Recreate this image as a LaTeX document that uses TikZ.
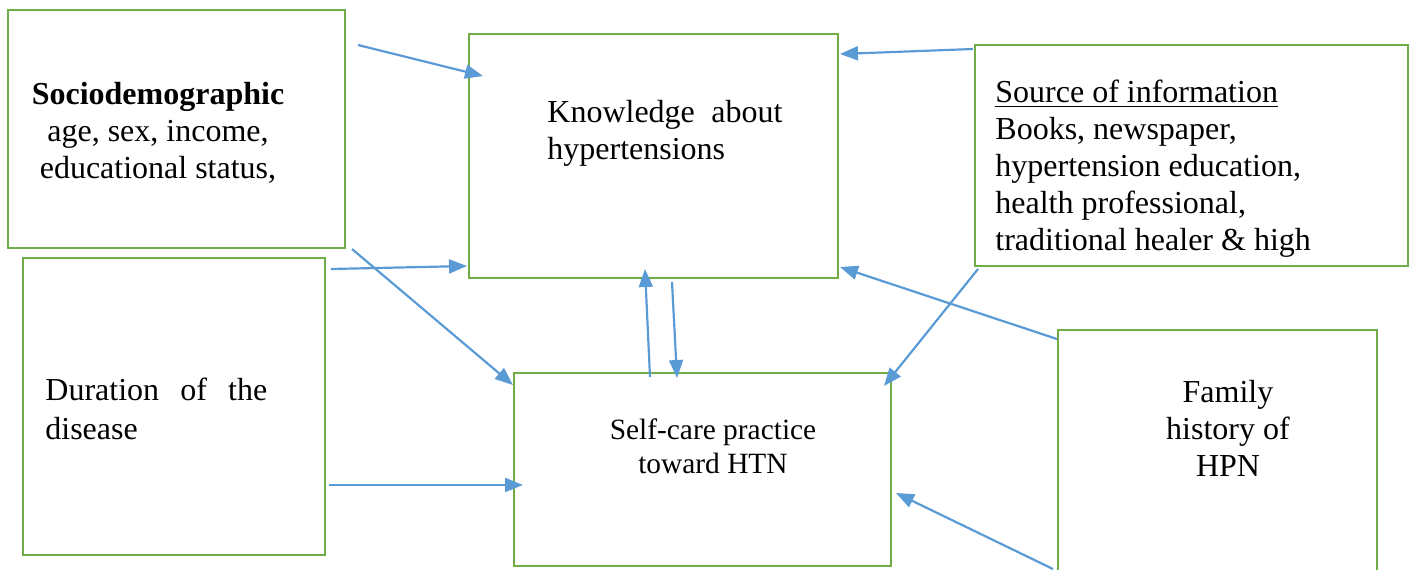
\documentclass[tikz,border=0pt]{standalone}
\usepackage{fontspec}
\setmainfont{Liberation Serif}
\usetikzlibrary{arrows.meta,fit}
\definecolor{boxgreen}{HTML}{70AD47}
\definecolor{arrblue}{HTML}{5B9BD5}
\tikzset{
  box/.style={draw=boxgreen, line width=1.4pt, inner sep=0pt},
  txt/.style={inner sep=0pt, font=\fontsize{16}{18.5}\selectfont},
  arr/.style={draw=arrblue, line width=1.1pt, -{Triangle[length=9pt,width=7pt]}},
}
\begin{document}
\begin{tikzpicture}[x=0.5pt,y=-0.5pt]
\useasboundingbox (0,0) rectangle (1413,569);
% boxes
\node[box, fit={(8,10) (345,248)}] (soc) {};
\node[box, fit={(469,34) (838,278)}] (know) {};
\node[box, fit={(975,45) (1408,266)}] (src) {};
\node[box, fit={(23,258) (325,555)}] (dur) {};
\node[box, fit={(514,373) (891,566)}] (self) {};
\node[box, fit={(1058,330) (1377,590)}] (fam) {};
% texts
\node[txt, align=center] (soct) at (158,133) {\textbf{Sociodemographic}\\age, sex, income,\\educational status,};
\node[txt, align=left, anchor=west] (knowt) at (547,133) {Knowledge\hspace{8.2pt}about\\hypertensions};
\node[txt, align=left, anchor=west] (srct) at (995,169) {\underline{Source of information}\\Books, newspaper,\\hypertension education,\\health professional,\\traditional healer \& high};
\node[txt, align=left, anchor=west, font=\fontsize{16}{19.5}\selectfont] (durt) at (45,409) {Duration\hspace{10.6pt}of\hspace{10.6pt}the\\disease};
\node[txt, align=center, font=\fontsize{14.7}{17}\selectfont] (selft) at (713,446) {Self-care practice\\toward HTN};
\node[txt, align=center] (famt) at (1228,428) {Family\\history of\\HPN};
% connector end points
\coordinate (a1s) at (358,45);   \coordinate (a1e) at (483,76);
\coordinate (a2s) at (973,49);   \coordinate (a2e) at (840,54);
\coordinate (a3s) at (331,269);  \coordinate (a3e) at (467,266);
\coordinate (a4s) at (352,249);  \coordinate (a4e) at (513,385);
\coordinate (a5s) at (329,485);  \coordinate (a5e) at (523,485);
\coordinate (a6s) at (650,377);  \coordinate (a6e) at (645,269);
\coordinate (a7s) at (672,282);  \coordinate (a7e) at (677,378);
\coordinate (a8s) at (978,269);  \coordinate (a8e) at (884,386);
\coordinate (a9s) at (1057,339); \coordinate (a9e) at (840,267);
\coordinate (a10s) at (1053,569); \coordinate (a10e) at (896,493);
% connectors
\draw[arr] (a1s) -- (a1e);
\draw[arr] (a2s) -- (a2e);
\draw[arr] (a3s) -- (a3e);
\draw[arr] (a4s) -- (a4e);
\draw[arr] (a5s) -- (a5e);
\draw[arr] (a6s) -- (a6e);
\draw[arr] (a7s) -- (a7e);
\draw[arr] (a8s) -- (a8e);
\draw[arr] (a9s) -- (a9e);
\draw[arr] (a10s) -- (a10e);
\end{tikzpicture}
\end{document}
